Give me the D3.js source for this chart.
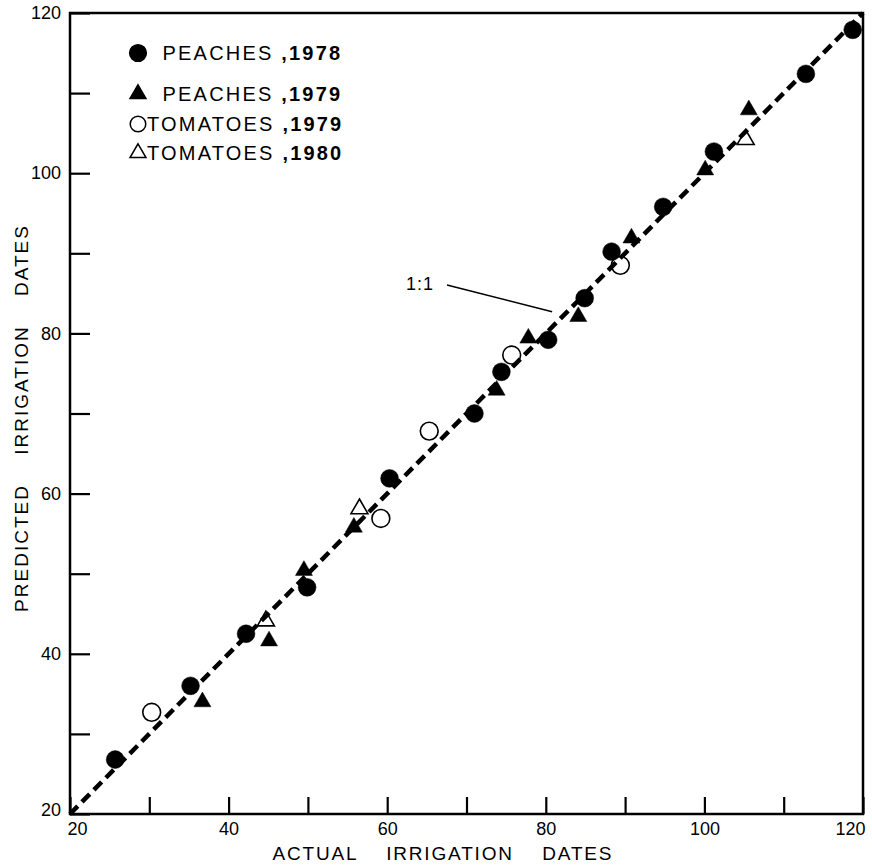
<!DOCTYPE html>
<html>
<head>
<meta charset="utf-8">
<script src="https://cdn.jsdelivr.net/npm/d3@7"></script>
<style>
  body { margin: 0; background: #fff; }
  svg { display: block; font-family: 'Liberation Sans', Arial, sans-serif; }
  text { white-space: pre; }
</style>
</head>
<body>
<div id="chart"></div>
<script>
// [actual, predicted] irrigation dates
const peaches1978 = [[25.7, 26.8], [35.2, 36.0], [42.2, 42.5], [49.9, 48.3], [60.3, 61.9],
  [71.0, 70.0], [74.4, 75.2], [80.3, 79.2], [84.9, 84.4], [88.3, 90.2], [94.8, 95.8],
  [101.2, 102.7], [112.8, 112.4], [118.7, 117.9]];
const peaches1979 = [[36.7, 34.0], [45.1, 41.6], [49.5, 50.4], [55.8, 55.8], [73.8, 72.9],
  [77.8, 79.4], [84.1, 82.1], [90.8, 91.9], [100.1, 100.4], [105.6, 107.9]];
const tomatoes1979 = [[30.3, 32.7], [59.2, 56.9], [65.3, 67.8], [75.7, 77.3], [89.4, 88.5]];
const tomatoes1980 = [[44.7, 44.1], [56.5, 58.1], [105.2, 104.2]];

const legendNames = ['  PEACHES ', '  PEACHES ', 'TOMATOES ', 'TOMATOES '];
const legendYears = [',1978', ',1979', ',1979', ',1980'];
const xTicks = [20, 30, 40, 50, 60, 70, 80, 90, 100, 110, 120];
const yTicks = [20, 30, 40, 50, 60, 70, 80, 90, 100, 110, 120];
const domain = [20, 120];

const w = 872;
const h = 868;

const svg = d3.select('#chart').append('svg')
    .attr('width', w)
    .attr('height', h);

const x = d3.scaleLinear().domain(domain).range([70, 863]);
const y = d3.scaleLinear().domain(domain).range([814, 13]);

// frame
svg.append('rect')
    .attr('x', x(20)).attr('y', y(120))
    .attr('width', x(120) - x(20)).attr('height', y(20) - y(120))
    .attr('fill', 'none').attr('stroke', '#000').attr('stroke-width', 2.5);

// axes, ticks point inward
const xAxis = d3.axisBottom(x)
    .tickValues(xTicks)
    .tickSize(-17)
    .tickPadding(8)
    .tickFormat((d) => d % 20 === 0 ? d : '');
const yAxis = d3.axisLeft(y)
    .tickValues(yTicks)
    .tickSize(-20)
    .tickPadding(9)
    .tickFormat((d) => d % 20 === 0 ? d : '');

const gx = svg.append('g').attr('transform', 'translate(0,' + y(20) + ')').call(xAxis);
const gy = svg.append('g').attr('transform', 'translate(' + x(20) + ',0)').call(yAxis);
[gx, gy].forEach(function(g) {
  g.select('.domain').remove();
  g.selectAll('.tick line').attr('stroke', '#000').attr('stroke-width', 2.2);
  g.selectAll('.tick text').attr('fill', '#000').style('font-size', '18px');
});
// keep end labels inside the page like the original
gx.selectAll('.tick text')
    .filter((d) => d === 120)
    .attr('text-anchor', 'end').attr('x', 2);
gx.selectAll('.tick text')
    .filter((d) => d === 20)
    .attr('x', 7);
gy.selectAll('.tick text')
    .filter((d) => d === 20)
    .attr('y', -4);

// axis titles
svg.append('text')
    .attr('x', 442).attr('y', 860)
    .attr('text-anchor', 'middle')
    .attr('textLength', 339)
    .attr('lengthAdjust', 'spacing')
    .style('font-size', '19px')
    .text('ACTUAL    IRRIGATION    DATES');
svg.append('text')
    .attr('transform', 'translate(28,419) rotate(-90)')
    .attr('text-anchor', 'middle')
    .attr('textLength', 386)
    .attr('lengthAdjust', 'spacing')
    .style('font-size', '19px')
    .text('PREDICTED    IRRIGATION    DATES');

// 1:1 line
svg.append('line')
    .attr('x1', x(20)).attr('y1', y(20))
    .attr('x2', x(120)).attr('y2', y(120))
    .attr('stroke', '#000')
    .attr('stroke-width', 4.5)
    .attr('stroke-dasharray', '11,6');

// 1:1 label with leader
svg.append('text')
    .attr('x', 406).attr('y', 290)
    .style('font-size', '18px')
    .style('letter-spacing', '1px')
    .text('1:1');
svg.append('line')
    .attr('x1', 447).attr('y1', 285)
    .attr('x2', x(80.8)).attr('y2', y(82.7))
    .attr('stroke', '#000').attr('stroke-width', 1.6);

const circle = d3.symbol().type(d3.symbolCircle).size(250);
const tri = d3.symbol().type(d3.symbolTriangle).size(125);

const series = [
  {data: peaches1978, sym: circle, filled: true},
  {data: peaches1979, sym: tri, filled: true},
  {data: tomatoes1979, sym: circle, filled: false},
  {data: tomatoes1980, sym: tri, filled: false},
];

series.forEach(function(s) {
  svg.append('g').selectAll('path')
      .data(s.data)
      .enter()
      .append('path')
      .attr('d', s.sym)
      .attr('transform', (d) => 'translate(' + x(d[0]) + ',' + y(d[1]) + ')')
      .attr('fill', s.filled ? '#000' : 'none')
      .attr('stroke', '#000')
      .attr('stroke-width', s.filled ? 0.5 : 1.6);
});

// legend
const legendRows = [53, 94, 124, 153];
const legendSyms = [
  d3.symbol().type(d3.symbolCircle).size(220),
  d3.symbol().type(d3.symbolTriangle).size(110),
  d3.symbol().type(d3.symbolCircle).size(190),
  d3.symbol().type(d3.symbolTriangle).size(110),
];
const legend = svg.append('g');
legendNames.forEach(function(name, i) {
  legend.append('path')
      .attr('d', legendSyms[i])
      .attr('transform', 'translate(138,' + legendRows[i] + ')')
      .attr('fill', i < 2 ? '#000' : 'none')
      .attr('stroke', '#000')
      .attr('stroke-width', 1.5);
  const t = legend.append('text')
      .attr('x', 147).attr('y', legendRows[i] + 7)
      .style('font-size', '20px')
      .style('letter-spacing', '2.2px');
  t.append('tspan').text(name);
  t.append('tspan').style('font-weight', 'bold').text(legendYears[i]);
});
</script>
</body>
</html>
